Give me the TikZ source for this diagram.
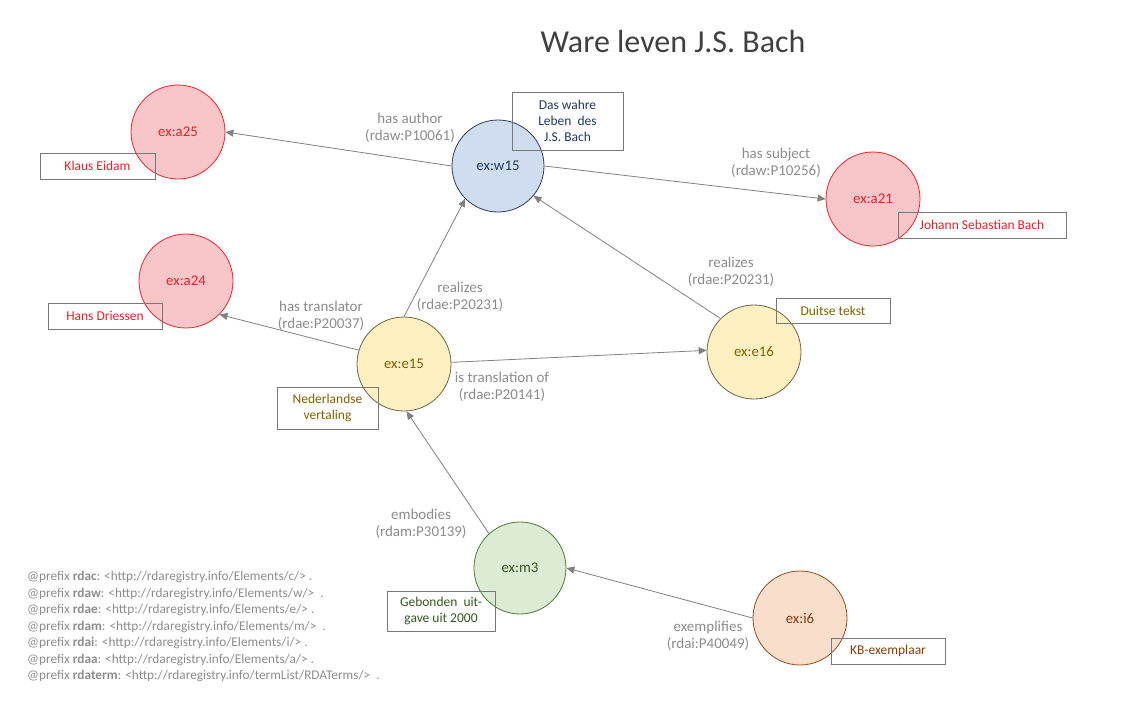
\documentclass[tikz,border=0pt]{standalone}
\usepackage{fontspec}
\setmainfont{Carlito}
\usetikzlibrary{arrows.meta}
\definecolor{redfill}{RGB}{248,198,200}
\definecolor{redline}{RGB}{232,38,46}
\definecolor{redtext}{RGB}{232,32,42}
\definecolor{bluefill}{RGB}{208,220,240}
\definecolor{blueline}{RGB}{47,60,100}
\definecolor{bluetext}{RGB}{31,56,100}
\definecolor{yelfill}{RGB}{255,240,193}
\definecolor{yelline}{RGB}{110,100,70}
\definecolor{yeltext}{RGB}{128,96,0}
\definecolor{grnfill}{RGB}{220,235,212}
\definecolor{grnline}{RGB}{78,122,51}
\definecolor{grntext}{RGB}{55,86,35}
\definecolor{orgfill}{RGB}{250,222,204}
\definecolor{orgline}{RGB}{150,75,30}
\definecolor{orgtext}{RGB}{132,60,12}
\definecolor{edgecol}{RGB}{128,128,128}
\definecolor{labcol}{RGB}{140,140,140}
\definecolor{boxcol}{RGB}{120,120,120}
\definecolor{titlecol}{RGB}{64,64,64}
\tikzset{
  ent/.style={circle, minimum size=94pt, inner sep=0pt, line width=0.8pt, font=\fontsize{14.8}{17}\selectfont},
  redent/.style={ent, fill=redfill, draw=redline, text=redtext},
  blueent/.style={ent, fill=bluefill, draw=blueline, text=bluetext},
  yelent/.style={ent, fill=yelfill, draw=yelline, text=yeltext},
  grnent/.style={ent, fill=grnfill, draw=grnline, text=grntext},
  orgent/.style={ent, fill=orgfill, draw=orgline, text=orgtext},
  tag/.style={draw=boxcol, line width=0.8pt, inner sep=0pt, align=center, font=\fontsize{13.5}{16}\selectfont},
  rel/.style={draw=edgecol, line width=0.8pt, -{Triangle[width=7pt,length=8pt]}},
  lab/.style={text=labcol, align=center, inner sep=0pt, font=\fontsize{15}{17.5}\selectfont},
}
\begin{document}
\begin{tikzpicture}[x=1pt,y=-1pt]
\useasboundingbox (0,0) rectangle (1124,720);
\node[text=titlecol, font=\fontsize{32}{36}\selectfont] (title) at (673,42) {Ware leven J.S. Bach};

\node[redent] (a25) at (178,132) {ex:a25};
\node[blueent, minimum size=92pt] (w15) at (498,166) {ex:w15};
\node[redent] (a21) at (873,199) {ex:a21};
\node[redent] (a24) at (186,281) {ex:a24};
\node[yelent] (e15) at (404,364) {ex:e15};
\node[yelent] (e16) at (754,352) {ex:e16};
\node[grnent, minimum size=92pt] (m3) at (520,568) {ex:m3};
\node[orgent] (i6) at (800,618) {ex:i6};

\node[tag, text=redtext, minimum width=115pt, minimum height=26pt] (t1) at (97.5,166) {Klaus Eidam};
\node[tag, text=bluetext, minimum width=111pt, minimum height=58pt] (t2) at (567.5,121) {Das wahre\\Leben~ des\\J.S. Bach};
\node[tag, text=redtext, minimum width=168pt, minimum height=26pt] (t3) at (982,225) {Johann Sebastian Bach};
\node[tag, text=redtext, minimum width=114pt, minimum height=26pt] (t4) at (105,316) {Hans Driessen};
\node[tag, text=yeltext, minimum width=101pt, minimum height=42pt] (t5) at (327.5,408) {Nederlandse\\vertaling};
\node[tag, text=yeltext, minimum width=114pt, minimum height=25pt] (t6) at (833,310.5) {Duitse tekst};
\node[tag, text=grntext, minimum width=108pt, minimum height=40pt] (t7) at (441,611) {Gebonden~ uit-\\gave uit 2000};
\node[tag, text=orgtext, minimum width=114pt, minimum height=26pt] (t8) at (888,651) {KB-exemplaar};

\draw[rel] (w15.west) -- (a25.east);
\draw[rel] (w15.east) -- (a21.west);
\draw[rel] (e15.north) -- (w15.225);
\draw[rel] (e16.135) -- (w15.-40);
\draw[rel] (e15.163) -- (a24.-45);
\draw[rel] (e15.2) -- (e16.178);
\draw[rel] (m3.132) -- (e15.-87);
\draw[rel] (i6.west) -- (m3.east);

\node[lab] (l1) at (410,128) {has author\\(rdaw:P10061)};
\node[lab] (l2) at (776,163) {has subject\\(rdaw:P10256)};
\node[lab] (l3) at (460,297) {realizes\\(rdae:P20231)};
\node[lab] (l4) at (731,272) {realizes\\(rdae:P20231)};
\node[lab] (l5) at (321,316) {has translator\\(rdae:P20037)};
\node[lab] (l6) at (502,387) {is translation of\\(rdae:P20141)};
\node[lab] (l7) at (421,524) {embodies\\(rdam:P30139)};
\node[lab] (l8) at (708,636) {exemplifies\\(rdai:P40049)};

\node[text=labcol, align=left, anchor=north west, inner sep=0pt, font=\fontsize{13.3}{16.5}\selectfont] (pref) at (27,571) {%
@prefix \textbf{rdac}: <http://rdaregistry.info/Elements/c/> .\\
@prefix \textbf{rdaw}: <http://rdaregistry.info/Elements/w/> ~.\\
@prefix \textbf{rdae}: <http://rdaregistry.info/Elements/e/> .\\
@prefix \textbf{rdam}: <http://rdaregistry.info/Elements/m/> ~.\\
@prefix \textbf{rdai}: <http://rdaregistry.info/Elements/i/> .\\
@prefix \textbf{rdaa}: <http://rdaregistry.info/Elements/a/> .\\
@prefix \textbf{rdaterm}: <http://rdaregistry.info/termList/RDATerms/> ~.};
\end{tikzpicture}
\end{document}
